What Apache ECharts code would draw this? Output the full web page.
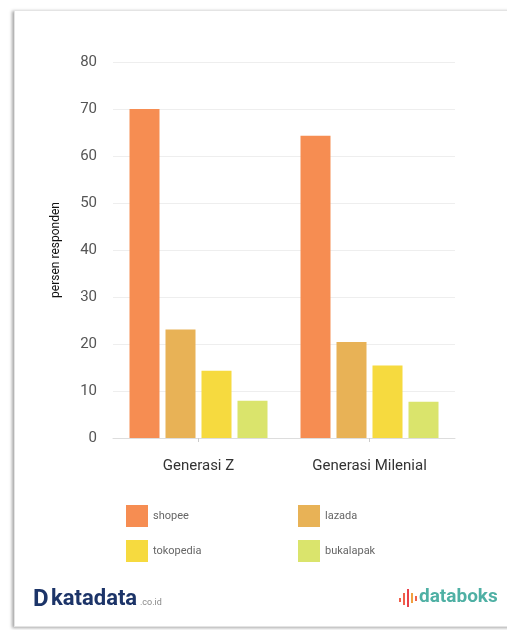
<!DOCTYPE html>
<html><head><meta charset="utf-8">
<script src="https://cdn.jsdelivr.net/npm/echarts@6/dist/echarts.min.js"></script>
<style>
html,body{margin:0;padding:0;background:#fff;width:507px;height:630px;overflow:hidden}
#card{position:absolute;left:14px;top:10px;width:520px;height:615px;background:#fff;border:1px solid #e4e4e4;box-shadow:-2px 1px 3px rgba(0,0,0,0.35)}
#c{position:absolute;left:0;top:0;width:507px;height:630px}
</style></head>
<body><div id="card"></div><div id="c"></div>
<script>
var categories = ['Generasi Z', 'Generasi Milenial'];
var seriesNames = ['shopee', 'lazada', 'tokopedia', 'bukalapak'];
var shopee = [70, 64.3];
var lazada = [23.1, 20.4];
var tokopedia = [14.3, 15.4];
var bukalapak = [7.9, 7.7];
var yTicks = [0, 10, 20, 30, 40, 50, 60, 70, 80];
var colors = ['#F68D52', '#E8B256', '#F6DA3F', '#DAE46C'];

var values = [shopee, lazada, tokopedia, bukalapak];
var chart = echarts.init(document.getElementById('c'), null, {renderer: 'canvas'});
var legendPos = [[121, 500], [293, 500], [121, 535], [293, 535]];
chart.setOption({
  animation: false,
  backgroundColor: 'transparent',
  color: colors,
  grid: {left: 113, right: 52, top: 62, bottom: 192, containLabel: false},
  legend: seriesNames.map(function (n, i) {
    return {data: [n], left: legendPos[i][0], top: legendPos[i][1], itemWidth: 22, itemHeight: 22, icon: 'rect',
      textStyle: {color: '#666', fontSize: 11, fontFamily: 'Roboto'}, selectedMode: false};
  }),
  xAxis: {
    type: 'category', data: categories,
    axisLine: {lineStyle: {color: '#ddd'}},
    axisTick: {show: true, alignWithLabel: true, length: 4, lineStyle: {color: '#ccc'}},
    axisLabel: {color: '#333', fontSize: 15, fontFamily: 'Roboto', margin: 21}
  },
  yAxis: {
    type: 'value', min: yTicks[0], max: yTicks[yTicks.length - 1], interval: 10,
    name: 'persen responden', nameLocation: 'middle', nameRotate: 90, nameGap: 51,
    nameTextStyle: {color: '#111', fontSize: 12, fontFamily: 'Roboto'},
    axisLine: {show: false}, axisTick: {show: false},
    axisLabel: {color: '#555', fontSize: 15, fontFamily: 'Roboto', margin: 16},
    splitLine: {lineStyle: {color: '#eeeeee'}}
  },
  series: seriesNames.map(function (n, i) {
    return {name: n, type: 'bar', data: values[i], barWidth: 30, barGap: '20%', itemStyle: {color: colors[i]}};
  }),
  graphic: [
    {type: 'text', left: 33, top: 588, style: {text: 'D', font: 'bold 24px Roboto', fill: '#1c3468'}},
    {type: 'text', left: 51, top: 588, style: {text: 'katadata', font: 'bold 22px Roboto', fill: '#1c3468'}},
    {type: 'text', left: 140, top: 598, style: {text: '.co.id', font: '9px Roboto', fill: '#888'}},
    {type: 'rect', shape: {x: 399, y: 598, width: 2, height: 4}, style: {fill: '#f0604a'}},
    {type: 'rect', shape: {x: 403, y: 593, width: 2, height: 12}, style: {fill: '#f0604a'}},
    {type: 'rect', shape: {x: 407, y: 589, width: 2, height: 18}, style: {fill: '#e9414b'}},
    {type: 'rect', shape: {x: 411, y: 593, width: 2, height: 10}, style: {fill: '#f0a040'}},
    {type: 'rect', shape: {x: 415, y: 596, width: 2, height: 5}, style: {fill: '#f0604a'}},
    {type: 'text', left: 419, top: 588, style: {text: 'databoks', font: 'bold 19px Roboto', fill: '#4fb0a4'}}
  ]
});
</script></body></html>
